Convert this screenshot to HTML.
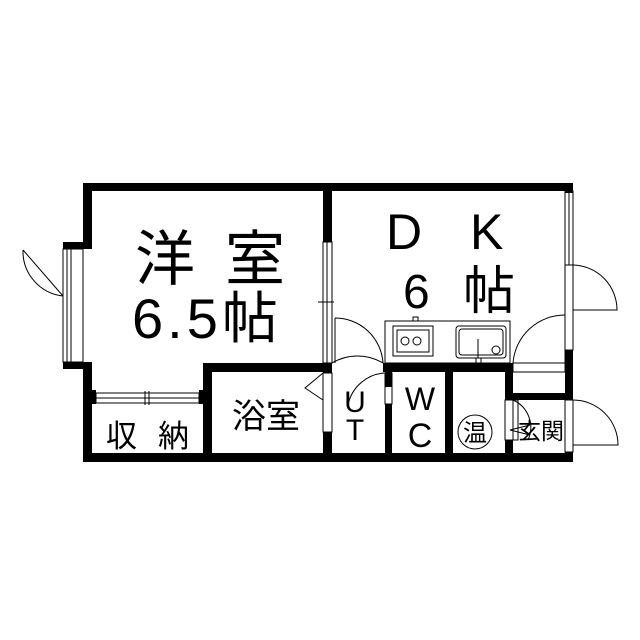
<!DOCTYPE html>
<html><head><meta charset="utf-8"><style>
html,body{margin:0;padding:0;background:#fff;}
svg{display:block}
text{font-family:"Liberation Sans","Noto Sans CJK JP",sans-serif;fill:#000}
</style></head><body>
<svg width="640" height="640" viewBox="0 0 640 640" xmlns="http://www.w3.org/2000/svg">
<rect width="640" height="640" fill="#fff"/>
<g fill="#000">
<rect x="83" y="183" width="490" height="8"/>
<rect x="83" y="183" width="9" height="60"/>
<rect x="63" y="242" width="29" height="7"/>
<rect x="63" y="362" width="29" height="7"/>
<rect x="83" y="362" width="9" height="100"/>
<rect x="83" y="453" width="490" height="9"/>
<rect x="323" y="183" width="9" height="59"/>
<rect x="323" y="363" width="9" height="10"/>
<rect x="323" y="432" width="9" height="25"/>
<rect x="203" y="363" width="129" height="9"/>
<rect x="383" y="363" width="130" height="9"/>
<rect x="203" y="363" width="9" height="95"/>
<rect x="385" y="372" width="7" height="15"/>
<rect x="385" y="404" width="7" height="50"/>
<rect x="445" y="372" width="8" height="85"/>
<rect x="505" y="363" width="8" height="37"/>
<rect x="505" y="440" width="8" height="15"/>
<rect x="505" y="393" width="60" height="7"/>
<rect x="565" y="183" width="8" height="10"/>
<rect x="565" y="350" width="8" height="50"/>
<rect x="565" y="452" width="8" height="8"/>
<rect x="92" y="390" width="4" height="14"/>
<rect x="199" y="390" width="4" height="14"/>
</g>
<g fill="none" stroke="#000" stroke-width="1">
<rect x="63" y="249" width="8" height="113"/>
<line x1="67" y1="249" x2="67" y2="362"/>
<rect x="71" y="249" width="12" height="113"/>
<path d="M63 296 L23 250 M23 250 A45 45 0 0 0 63 296"/>
<rect x="323" y="242" width="9" height="121"/>
<line x1="327" y1="242" x2="327" y2="363"/>
<line x1="318" y1="302" x2="334" y2="302"/>
<line x1="323" y1="298" x2="323" y2="306"/>
<rect x="96" y="393" width="103" height="10"/>
<line x1="96" y1="398" x2="199" y2="398"/>
<line x1="145" y1="391" x2="145" y2="405"/><line x1="149" y1="391" x2="149" y2="405"/>
<rect x="323" y="373" width="9" height="59"/>
<path d="M323 373 L305 388 L323 400"/>
<path d="M332 363 A50 50 0 0 1 383 363"/>
<path d="M335 318 A48 48 0 0 1 383 363"/>
<line x1="335" y1="318" x2="335" y2="363"/>
<rect x="385" y="373" width="7" height="31"/>
<path d="M385 373 A40 40 0 0 0 348 405"/>
<rect x="385" y="321" width="125" height="42"/>
<rect x="393" y="326" width="40" height="30"/><rect x="397" y="330" width="32" height="22"/>
<circle cx="405" cy="341" r="4"/><circle cx="417" cy="341" r="4"/>
<rect x="456" y="326" width="50" height="32" rx="3"/><rect x="459" y="329" width="44" height="26" rx="3"/>
<line x1="478" y1="339" x2="478" y2="358"/>
<circle cx="496" cy="350" r="4"/>
<rect x="413" y="317" width="5" height="4"/><rect x="476" y="358" width="5" height="5"/>
<path d="M513 363 A52 52 0 0 1 565 315"/>
<line x1="565" y1="315" x2="565" y2="363"/>
<rect x="513" y="363" width="52" height="9"/>
<rect x="565" y="191" width="8" height="74"/>
<line x1="569" y1="191" x2="569" y2="265"/>
<rect x="565" y="265" width="8" height="85"/>
<path d="M573 265 A45 45 0 0 1 617 310 L573 310"/>
<rect x="565" y="400" width="8" height="52"/>
<path d="M573 400 A45 45 0 0 1 618 445 L573 445"/>
<rect x="505" y="400" width="8" height="40"/>
<rect x="513" y="400" width="5" height="40"/>
<path d="M513 400 A30 30 0 0 1 528 440"/>
<path d="M530 425 L510 430 L530 435"/>
<circle cx="475" cy="432" r="17"/>
</g>
<text x="135" y="280" font-size="60" letter-spacing="30">洋室</text>
<text x="132" y="338" font-size="56" letter-spacing="4">6.5帖</text>
<text x="386" y="249" font-size="50">D</text>
<text x="470" y="249" font-size="50">K</text>
<text x="403" y="308" font-size="48">6</text>
<text x="463" y="309" font-size="52">帖</text>
<text x="266" y="428" font-size="34" text-anchor="middle">浴室</text>
<text x="106" y="447" font-size="31">収</text>
<text x="158" y="447" font-size="31">納</text>
<text x="355" y="412" font-size="30" text-anchor="middle">U</text>
<text x="355" y="440" font-size="30" text-anchor="middle">T</text>
<text x="420" y="410" font-size="32" text-anchor="middle">W</text>
<text x="420" y="447" font-size="34" text-anchor="middle">C</text>
<text x="475" y="441" font-size="24" text-anchor="middle">温</text>
<text x="541" y="439" font-size="23" text-anchor="middle">玄関</text>
</svg>
</body></html>
